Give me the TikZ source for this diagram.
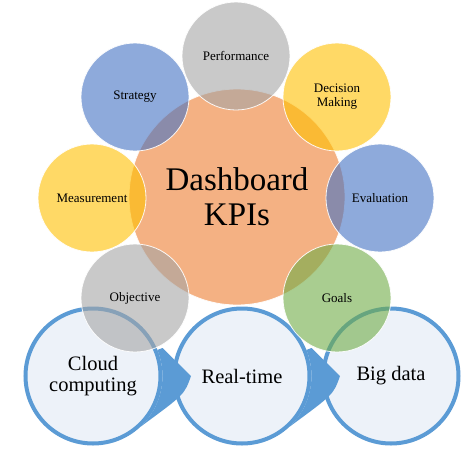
\documentclass[tikz,border=0pt]{standalone}
\usepackage{fontspec}
\setmainfont{Liberation Serif}
\usetikzlibrary{calc}
\definecolor{accblue}{HTML}{4472C4}
\definecolor{accorange}{HTML}{ED7D31}
\definecolor{accgray}{HTML}{A5A5A5}
\definecolor{accyellow}{HTML}{FFC000}
\definecolor{accgreen}{HTML}{70AD47}
\definecolor{flowblue}{HTML}{5B9BD5}
\definecolor{flowfill}{HTML}{EDF2F9}
\begin{document}
\begin{tikzpicture}[x=1pt,y=-1pt,
  sat/.style={circle, minimum size=108pt, inner sep=0pt, draw=white, line width=0.8pt,
    fill opacity=0.6, draw opacity=0.9, text opacity=1, text=black,
    font=\fontsize{13}{14}\selectfont, align=center},
  hub/.style={circle, minimum size=216pt, inner sep=0pt, draw=white, line width=0.8pt,
    fill=accorange, fill opacity=0.6, draw opacity=0.9, text opacity=1, text=black,
    font=\fontsize{33}{35}\selectfont, align=center},
  flowcircle/.style={circle, minimum size=135pt, inner sep=0pt, draw=flowblue, line width=4pt,
    fill=flowfill, font=\fontsize{20.5}{21}\selectfont, align=center},
  wedge/.style={fill=flowblue}]
\useasboundingbox[fill=white] (0,0) rectangle (474,450);

% bottom process row
\node[flowcircle] (cloud) at (93,376) {Cloud\\computing};
\node[flowcircle] (realtime) at (242,376) {Real-time};
\node[flowcircle] (bigdata) at (391,376) {Big data};

% arrow wedges
\fill[wedge] ($(cloud)+(69.5,-28)$) -- ($(cloud)+(98,0)$)
  .. controls ($(cloud)+(91.5,18.5)$) .. ($(cloud)+(47.4,50.8)$)
  arc[start angle=47, end angle=-22, radius=69.5] -- cycle;
\fill[wedge] ($(realtime)+(69.5,-28)$) -- ($(realtime)+(98,0)$)
  .. controls ($(realtime)+(91.5,18.5)$) .. ($(realtime)+(47.4,50.8)$)
  arc[start angle=47, end angle=-22, radius=69.5] -- cycle;

% hub
\node[hub] (hub) at (237,197) {Dashboard\\KPIs};

% satellites
\node[sat, fill=accgray] (perf) at (236,56) {Performance};
\node[sat, fill=accblue] (strat) at (135,97) {Strategy};
\node[sat, fill=accyellow] (dec) at (337,97) {Decision\\Making};
\node[sat, fill=accyellow] (meas) at (92,198) {Measurement};
\node[sat, fill=accblue] (eval) at (380,198) {Evaluation};
\node[sat, fill=accgray] (obj) at (135,298) {Objective};
\node[sat, fill=accgreen] (goals) at (337,298) {Goals};
\end{tikzpicture}
\end{document}
